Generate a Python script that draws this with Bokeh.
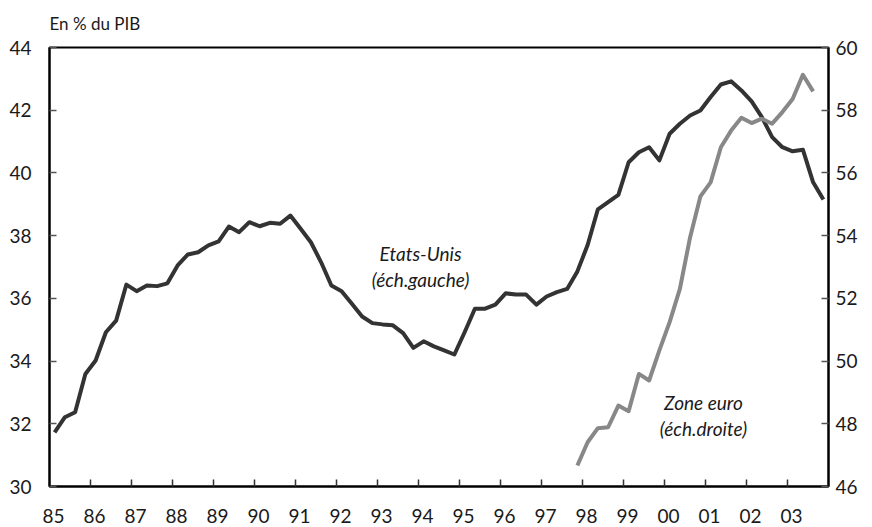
from bokeh.plotting import figure
from bokeh.models import Range1d, LinearAxis, FixedTicker, Label
from bokeh.embed import file_html
from bokeh.resources import INLINE

# ---- data (quarterly, % of GDP) ----
us_first_quarter = (1985, 1)
us_values = [31.73, 32.21, 32.37, 33.59, 34.02, 34.92, 35.29, 36.44,
             36.23, 36.41, 36.39, 36.48, 37.05, 37.40, 37.47, 37.69,
             37.82, 38.29, 38.11, 38.43, 38.30, 38.41, 38.38, 38.64,
             38.22, 37.79, 37.15, 36.41, 36.23, 35.83, 35.42, 35.21,
             35.17, 35.14, 34.89, 34.42, 34.63, 34.47, 34.34, 34.21,
             34.92, 35.67, 35.67, 35.80, 36.16, 36.12, 36.12, 35.80,
             36.06, 36.20, 36.30, 36.86, 37.70, 38.84, 39.07, 39.30,
             40.34, 40.66, 40.82, 40.40, 41.25, 41.57, 41.83, 41.99,
             42.42, 42.82, 42.92, 42.63, 42.28, 41.78, 41.14, 40.82,
             40.69, 40.74, 39.70, 39.15]
euro_first_quarter = (1997, 4)
euro_values = [46.67, 47.41, 47.86, 47.89, 48.58, 48.40, 49.59, 49.38,
               50.34, 51.24, 52.30, 53.95, 55.25, 55.70, 56.82, 57.35,
               57.76, 57.59, 57.73, 57.57, 57.94, 58.36, 59.13, 58.60]

years = list(range(1985, 2004))
year_labels = ["85", "86", "87", "88", "89", "90", "91", "92", "93", "94",
               "95", "96", "97", "98", "99", "00", "01", "02", "03"]
left_ticks = [30, 32, 34, 36, 38, 40, 42, 44]
right_ticks = [46, 48, 50, 52, 54, 56, 58, 60]

def quarter_x(first, n):
    y0, q0 = first
    return [y0 + (q0 - 1 + i) * 0.25 + 0.125 for i in range(n)]

us_x = quarter_x(us_first_quarter, len(us_values))
euro_x = quarter_x(euro_first_quarter, len(euro_values))

FONT = "Lato"
TXT = "#1a1a1a"

p = figure(width=872, height=527, output_backend="svg", toolbar_location=None,
           x_range=Range1d(1985, 2004), y_range=Range1d(30, 44),
           min_border_left=49, min_border_right=44, min_border_top=47,
           min_border_bottom=41)
p.extra_y_ranges = {"right": Range1d(46, 60)}
p.grid.visible = False
p.outline_line_color = "black"
p.outline_line_width = 2
p.background_fill_color = "white"
p.border_fill_color = "white"

p.title.text = "En % du PIB"
p.title.align = "left"
p.title.text_font = FONT
p.title.text_font_size = "17px"
p.title.text_font_style = "normal"
p.title.text_color = TXT
p.title.padding = {"left": 0, "right": 0, "top": 0, "bottom": 9}

# x axis
xa = p.xaxis[0]
label_pos = [y + 0.1 for y in years]
xa.ticker = FixedTicker(ticks=label_pos, minor_ticks=years[1:])
xa.major_label_overrides = {pos: lab for pos, lab in zip(label_pos, year_labels)}
xa.major_tick_in = 0
xa.major_tick_out = 0
xa.minor_tick_in = 7
xa.minor_tick_out = 0
xa.minor_tick_line_color = "#333333"
xa.minor_tick_line_width = 1.5
xa.axis_line_width = 2
xa.axis_line_color = "black"
xa.major_label_standoff = 22
xa.major_label_text_line_height = 0.9
xa.major_label_text_font = FONT
xa.major_label_text_font_size = "19px"
xa.major_label_text_color = TXT

# left axis
ya = p.yaxis[0]
ya.ticker = FixedTicker(ticks=left_ticks)
ya.major_tick_in = 7
ya.major_tick_out = 0
ya.minor_tick_line_color = None
ya.major_tick_line_color = "#555555"
ya.major_tick_line_width = 1.5
ya.axis_line_width = 2
ya.axis_line_color = "black"
ya.major_label_standoff = 18
ya.major_label_text_font = FONT
ya.major_label_text_font_size = "19px"
ya.major_label_text_color = TXT

# right axis
ra = LinearAxis(y_range_name="right", ticker=FixedTicker(ticks=right_ticks))
ra.major_tick_in = 7
ra.major_tick_out = 0
ra.minor_tick_line_color = None
ra.major_tick_line_color = "#555555"
ra.major_tick_line_width = 1.5
ra.axis_line_width = 2
ra.axis_line_color = "black"
ra.major_label_standoff = 7
ra.major_label_text_font = FONT
ra.major_label_text_font_size = "19px"
ra.major_label_text_color = TXT
p.add_layout(ra, "right")

# lines
p.line(us_x, us_values, line_color="#333333", line_width=4, line_join="round")
p.line(euro_x, euro_values, line_color="#888888", line_width=4,
       line_join="round", y_range_name="right")

# annotations
for txt, xx, yy in [("Etats-Unis", 1994.05, 37.43), ("(éch.gauche)", 1994.05, 36.60)]:
    p.add_layout(Label(x=xx, y=yy, text=txt, text_font=FONT, text_font_size="19px",
                       text_font_style="italic", text_align="center",
                       text_baseline="middle", text_color=TXT))
for txt, xx, yy in [("Zone euro", 2000.95, 48.68), ("(éch.droite)", 2000.95, 47.85)]:
    p.add_layout(Label(x=xx, y=yy, text=txt, text_font=FONT, text_font_size="19px",
                       text_font_style="italic", text_align="center",
                       text_baseline="middle", text_color=TXT,
                       y_range_name="right"))

open("out.html", "w").write(file_html(p, INLINE))
